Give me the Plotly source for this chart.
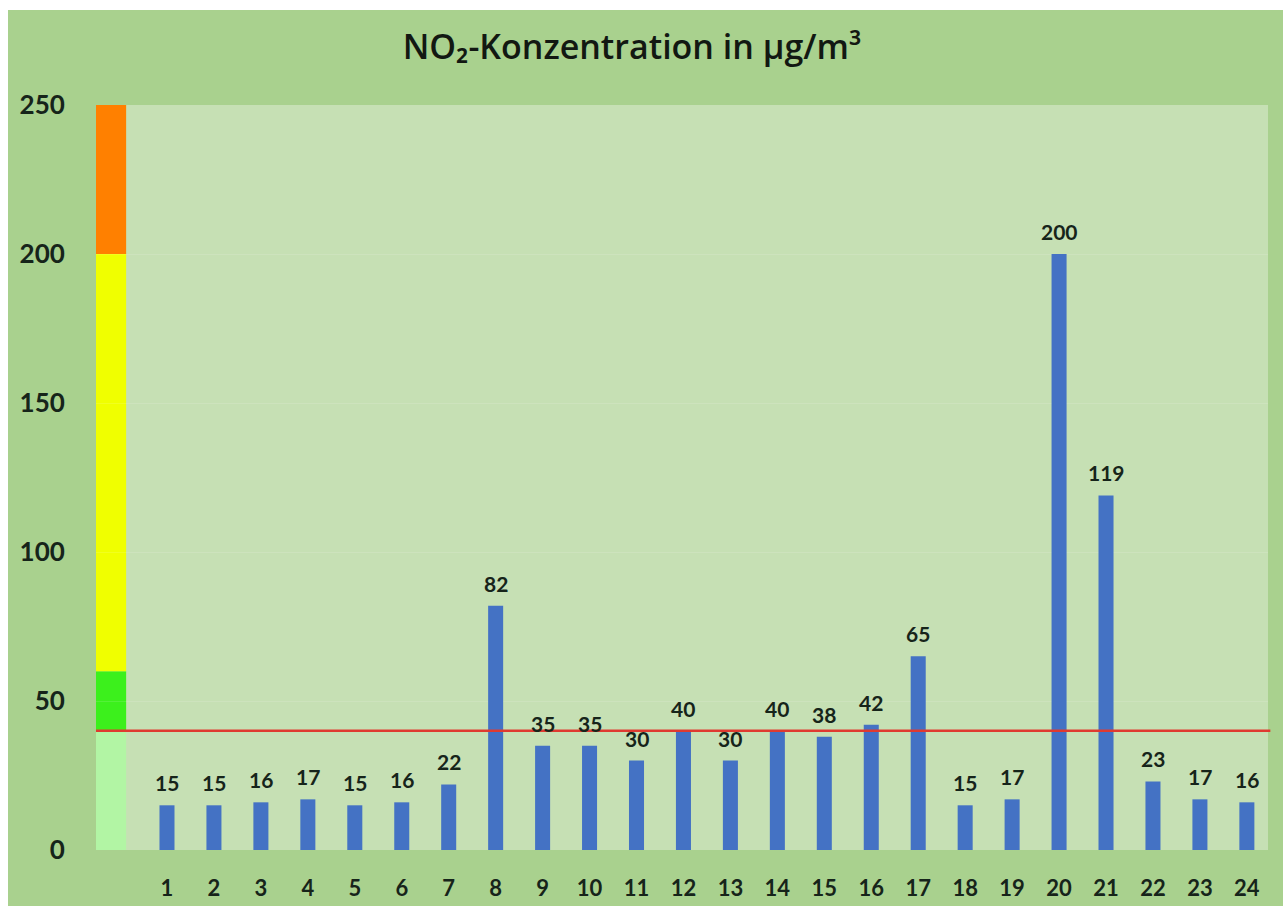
import plotly.graph_objects as go

categories = list(range(1, 25))
values = [15, 15, 16, 17, 15, 16, 22, 82, 35, 35, 30, 40, 30, 40, 38, 42, 65, 15, 17, 200, 119, 23, 17, 16]
title_text = "NO₂-Konzentration in µg/m³"
y_ticks = [0, 50, 100, 150, 200, 250]
limit_value = 40
band_edges = [0, 40, 60, 200, 250]
band_colors = ["#b2f5a4", "#3cf01c", "#f0ff00", "#ff8000"]

W, H = 1283, 906
ML, MR, MT, MB = 96, 15, 105, 56
pw = W - ML - MR
ph = H - MT - MB

FONT = "Lato"
DARK = "#16241a"

fig = go.Figure()
fig.add_trace(go.Bar(
    x=categories, y=values, width=0.32,
    marker=dict(color="#4472c4", line=dict(width=0)),
    hoverinfo="x+y",
))

# value labels above bars
for c, v in zip(categories, values):
    fig.add_annotation(x=c, y=v, text=f"<b>{v}</b>", showarrow=False,
                       yanchor="bottom", yshift=8,
                       font=dict(family=FONT, size=21, color=DARK))

shapes = []
# outer green frame (paper coords)
shapes.append(dict(type="rect", xref="paper", yref="paper",
                   x0=(8 - ML) / pw, x1=(W - ML) / pw + 0.01,
                   y0=-MB / ph - 0.02, y1=(H - MB - 10) / ph,
                   fillcolor="#a9d18e", line=dict(width=0), layer="below"))
# plot area
shapes.append(dict(type="rect", xref="paper", yref="paper", x0=0, x1=1, y0=0, y1=1,
                   fillcolor="#c6e0b4", line=dict(width=0), layer="below"))

x_left = -0.512
x_band_right = 0.13
x_right = 24.45
for i, col in enumerate(band_colors):
    shapes.append(dict(type="rect", xref="x", yref="y",
                       x0=x_left, x1=x_band_right,
                       y0=band_edges[i], y1=band_edges[i + 1],
                       fillcolor=col, line=dict(width=0), layer="below"))
# limit line
shapes.append(dict(type="line", xref="paper", yref="y", x0=0, x1=1.002,
                   y0=limit_value, y1=limit_value,
                   line=dict(color="#df3a30", width=2.5), layer="above"))

fig.update_layout(
    width=W, height=H,
    margin=dict(l=ML, r=MR, t=MT, b=MB, pad=0, autoexpand=False),
    paper_bgcolor="white",
    plot_bgcolor="rgba(0,0,0,0)",
    showlegend=False,
    shapes=shapes,
    title=dict(text=title_text, x=632 / W, xanchor="center",
               y=1 - 47 / H, yanchor="middle",
               font=dict(family="Open Sans", size=34, color="#121812", weight=600)),
    xaxis=dict(range=[x_left, x_right], tickmode="array", tickvals=categories,
               ticktext=[f"<b>{c}</b>" for c in categories],
               showgrid=False, zeroline=False, showline=False, automargin=False,
               ticks="outside", ticklen=19, tickcolor="rgba(0,0,0,0)",
               tickfont=dict(family=FONT, size=22, color=DARK)),
    yaxis=dict(range=[0, 250], tickmode="array", tickvals=y_ticks,
               ticktext=[f"<b>{t}</b>" for t in y_ticks],
               showgrid=True, gridcolor="rgba(255,255,255,0.12)", gridwidth=1,
               zeroline=False, showline=False, automargin=False,
               ticks="outside", ticklen=25, tickcolor="rgba(0,0,0,0)",
               tickfont=dict(family=FONT, size=26, color=DARK)),
)

fig.write_html(
    "out.html",
    config={"displayModeBar": False},
    post_script="document.body.style.margin='0';document.documentElement.style.overflow='hidden';",
)
